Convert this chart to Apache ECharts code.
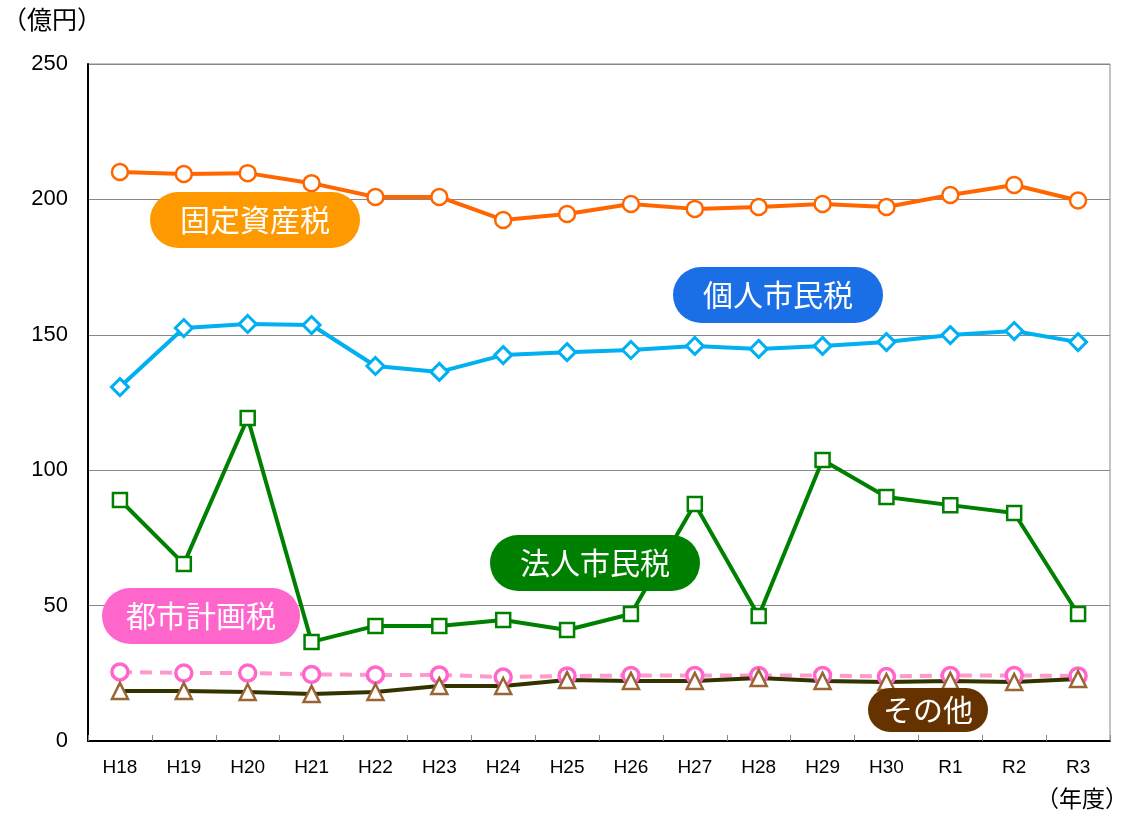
<!DOCTYPE html>
<html>
<head>
<meta charset="utf-8">
<script src="https://cdn.jsdelivr.net/npm/echarts@6/dist/echarts.min.js"></script>
<style>
  html, body { margin: 0; padding: 0; background: #fff; }
  #chart { width: 1126px; height: 817px; }
</style>
</head>
<body>
<div id="chart"></div>
<script>
// 年度
var years = ["H18", "H19", "H20", "H21", "H22", "H23", "H24", "H25", "H26", "H27", "H28", "H29", "H30", "R1", "R2", "R3"];
// 税目別（億円）
var koteiShisan = [210.1, 209.4, 209.7, 206.0, 200.9, 200.9, 192.4, 194.6, 198.3, 196.5, 197.2, 198.3, 197.2, 201.6, 205.3, 199.6];
var kojinShimin = [130.7, 152.5, 154.0, 153.6, 138.5, 136.3, 142.5, 143.6, 144.4, 145.9, 144.8, 145.9, 147.3, 149.9, 151.4, 147.3];
var hojinShimin = [89.0, 65.4, 119.3, 36.6, 42.5, 42.5, 44.7, 41.0, 46.9, 87.5, 46.2, 103.8, 90.1, 87.1, 84.2, 46.9];
var toshiKeikaku = [25.5, 25.1, 25.1, 24.6, 24.4, 24.4, 23.6, 24.0, 24.2, 24.2, 24.2, 24.2, 23.8, 24.2, 24.2, 24.0];
var sonota = [18.5, 18.5, 18.1, 17.4, 18.1, 20.3, 20.3, 22.5, 22.2, 22.2, 23.3, 22.2, 21.8, 22.2, 21.8, 22.9];

var chart = echarts.init(document.getElementById("chart"));

var jpFont = "Noto Sans CJK JP";

// 角丸ラベル
function pill(text, x, y, bg, pad, radius) {
  return {
    type: "text",
    left: x,
    top: y,
    z: 100,
    style: {
      text: text,
      fill: "#fff",
      fontSize: 30,
      fontFamily: jpFont,
      backgroundColor: bg,
      borderRadius: radius,
      padding: pad
    }
  };
}

var option = {
  animation: false,
  backgroundColor: "#fff",
  grid: { left: 88, right: 16, top: 64, bottom: 76, show: true, borderColor: "#888", borderWidth: 1 },
  xAxis: {
    type: "category",
    data: years,
    boundaryGap: true,
    axisLine: { lineStyle: { color: "#000", width: 2 } },
    axisTick: { show: true, inside: true, length: 6, lineStyle: { color: "#888" } },
    axisLabel: { color: "#000", fontSize: 19, fontFamily: "Liberation Sans", margin: 17 }
  },
  yAxis: {
    type: "value",
    min: 0,
    max: 250,
    interval: 50,
    axisLine: { show: true, lineStyle: { color: "#000", width: 2 } },
    axisTick: { show: false },
    splitLine: { lineStyle: { color: "#888", width: 1 } },
    axisLabel: { color: "#000", fontSize: 22, fontFamily: "Liberation Sans", margin: 20 }
  },
  graphic: [
    { type: "text", left: 2, top: 7, style: { text: "（億円）", fill: "#000", fontSize: 25, fontFamily: jpFont } },
    { type: "text", left: 1036, top: 787, style: { text: "（年度）", fill: "#000", fontSize: 23, fontFamily: jpFont } },
    pill("固定資産税", 150, 192, "#FF9900", [13, 30, 13, 30], 28),
    pill("個人市民税", 673, 267, "#1A6FE6", [13, 30, 13, 30], 28),
    pill("法人市民税", 490, 535, "#008000", [13, 30, 13, 30], 28),
    pill("都市計画税", 102, 588, "#FF66CC", [13, 24, 13, 24], 28),
    pill("その他", 868, 688, "#663300", [7, 15, 7, 15], 22)
  ],
  series: [
    {
      name: "固定資産税", type: "line", data: koteiShisan,
      symbol: "circle", symbolSize: 16,
      lineStyle: { color: "#FF6600", width: 4 },
      itemStyle: { color: "#fff", borderColor: "#FF6600", borderWidth: 2.5 }
    },
    {
      name: "個人市民税", type: "line", data: kojinShimin,
      symbol: "diamond", symbolSize: 17,
      lineStyle: { color: "#00B0F0", width: 4 },
      itemStyle: { color: "#fff", borderColor: "#00B0F0", borderWidth: 3 }
    },
    {
      name: "法人市民税", type: "line", data: hojinShimin,
      symbol: "rect", symbolSize: 14,
      lineStyle: { color: "#008000", width: 4 },
      itemStyle: { color: "#fff", borderColor: "#008000", borderWidth: 2.5 }
    },
    {
      name: "都市計画税", type: "line", data: toshiKeikaku,
      symbol: "circle", symbolSize: 16,
      lineStyle: { color: "#FF99CC", width: 4, type: [12, 8] },
      itemStyle: { color: "#fff", borderColor: "#FF66CC", borderWidth: 3.5 }
    },
    {
      name: "その他", type: "line", data: sonota,
      symbol: "triangle", symbolSize: 16,
      lineStyle: { color: "#333300", width: 4 },
      itemStyle: { color: "#fff", borderColor: "#996633", borderWidth: 2.5 }
    }
  ]
};

chart.setOption(option);
</script>
</body>
</html>
